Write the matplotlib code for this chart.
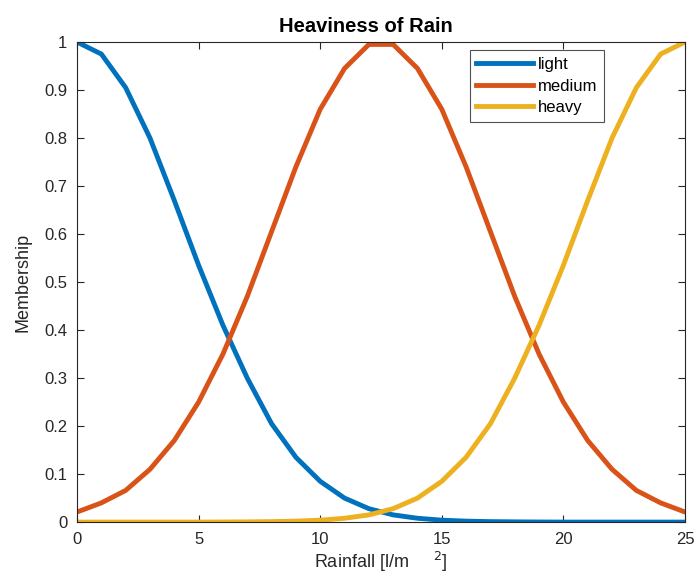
import numpy as np
import matplotlib.pyplot as plt

plt.rcParams['font.family'] = ['Liberation Sans', 'DejaVu Sans']

# rainfall values (l/m^2)
rain = np.arange(0, 26)

# membership values
light = [1.0, 0.975, 0.905, 0.80, 0.67, 0.535, 0.41, 0.30, 0.205, 0.135,
         0.085, 0.05, 0.028, 0.015, 0.008, 0.004, 0.002, 0.001, 0.0005, 0.0002,
         0.0, 0.0, 0.0, 0.0, 0.0, 0.0]
medium = [0.021, 0.04, 0.066, 0.11, 0.17, 0.25, 0.35, 0.47, 0.605, 0.74,
          0.86, 0.945, 0.995, 0.995, 0.945, 0.86, 0.74, 0.605, 0.47, 0.35,
          0.25, 0.17, 0.11, 0.066, 0.04, 0.021]
heavy = light[::-1]

names = ["light", "medium", "heavy"]
colors = ["#0072BD", "#D95319", "#EDB120"]

fig = plt.figure(figsize=(6.94, 5.84), dpi=100)
ax = fig.add_axes([0.111, 0.106, 0.876, 0.822])

for yv, nm, c in zip([light, medium, heavy], names, colors):
    ax.plot(rain, yv, color=c, lw=3.5, label=nm, solid_joinstyle="miter")

ax.set_xlim(0, 25)
ax.set_ylim(0, 1)
ax.set_xticks([0, 5, 10, 15, 20, 25])
ax.set_yticks(np.arange(0, 1.01, 0.1))
ax.set_yticklabels(["0", "0.1", "0.2", "0.3", "0.4", "0.5", "0.6", "0.7", "0.8", "0.9", "1"])

gray = "#262626"
for s in ax.spines.values():
    s.set_color(gray)
    s.set_linewidth(0.8)
ax.tick_params(direction="in", top=True, right=True, length=5, width=0.8,
               colors=gray, labelsize=12, pad=7)

# title sits a little left of centre, as in the original
ax.text(0.475, 1.013, "Heaviness of Rain", transform=ax.transAxes,
        ha="center", va="bottom", weight="bold", fontsize=14.5)
ax.set_xlabel("Rainfall [l/m     $^{2}$]", fontsize=13, color=gray, labelpad=2)
ax.set_ylabel("Membership", fontsize=13, color=gray, labelpad=9)

leg = ax.legend(loc="upper left", bbox_to_anchor=(0.646, 0.983), fontsize=12,
                frameon=True, fancybox=False, edgecolor=gray, handlelength=3.4,
                borderpad=0.4, labelspacing=0.4, handletextpad=0.3,
                borderaxespad=0)
leg.get_frame().set_linewidth(0.8)

fig.savefig("out.png", dpi=100)
